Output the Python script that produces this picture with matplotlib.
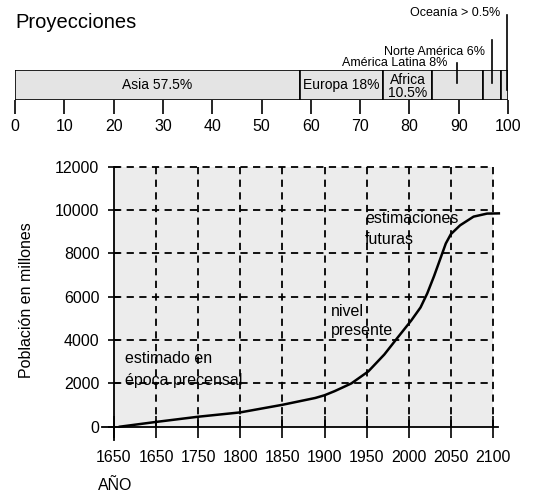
import numpy as np
import matplotlib.pyplot as plt

# --- data -------------------------------------------------------------
regions = ['Asia', 'Europa', 'Africa', 'América Latina', 'Norte América', 'Oceanía']
region_labels = ['Asia 57.5%', 'Europa 18%', 'Africa\n10.5%', '', '', '']
# widths as drawn in the bar (percent of total)
region_widths = [57.8, 16.8, 10.0, 10.3, 3.7, 1.4]
callouts = ['América Latina 8%', 'Norte América 6%', 'Oceanía > 0.5%']

years = [1657, 1700, 1750, 1800, 1850, 1889, 1900, 1912, 1921, 1932, 1952,
         1971, 1987, 2003, 2014, 2022, 2030, 2038, 2044, 2050, 2061, 2077,
         2093, 2107]
population = [0, 220, 460, 660, 1010, 1325, 1450, 1640, 1800, 2000, 2550,
              3330, 4120, 4900, 5500, 6150, 6940, 7800, 8450, 8880, 9290,
              9690, 9830, 9840]

tick_years = [1650, 1700, 1750, 1800, 1850, 1900, 1950, 2000, 2050, 2100]
tick_year_labels = ['1650', '1650', '1750', '1800', '1850', '1900',
                    '1950', '2000', '2050', '2100']
pop_ticks = [0, 2000, 4000, 6000, 8000, 10000, 12000]

plt.rcParams['font.family'] = ['Liberation Sans', 'DejaVu Sans']
W, H = 536, 495

fig = plt.figure(figsize=(W / 100, H / 100), dpi=100)

fig.text(15 / W, 1 - 28 / H, 'Proyecciones', fontsize=14.5, va='baseline', ha='left')

# --- top stacked bar ----------------------------------------------------
bx = fig.add_axes([15 / W, 1 - 100 / H, 493 / W, 30 / H])
left = 0
for name, w, lab in zip(regions, region_widths, region_labels):
    bx.barh(0.5, w, left=left, height=1.0, color='#e4e4e4',
            edgecolor='black', linewidth=1.2)
    if lab:
        bx.text(left + w / 2, 0.5 if '\n' not in lab else 0.45, lab,
                ha='center', va='center', fontsize=10, linespacing=0.85)
    left += w
bx.set_xlim(0, 100)
bx.set_ylim(0, 1)
bx.set_yticks([])
for s in ['top', 'right', 'left', 'bottom']:
    bx.spines[s].set_visible(False)
bx.set_xticks(np.arange(0, 101, 10))
bx.tick_params(axis='x', direction='out', length=10, width=1.2, pad=4,
               labelsize=11.5)

# callout lines and labels
line_x = [89.6, 96.8, 99.8]
line_top = [1.23, 2.0, 2.83]
line_bot = [0.57, 0.57, 0.33]
lab_x = [87.8, 95.3, 98.4]
lab_y = [1.23, 1.6, 2.9]
for txt, lx, lt, lb, tx, ty in zip(callouts, line_x, line_top, line_bot, lab_x, lab_y):
    bx.plot([lx, lx], [lb, lt], color='black', lw=1.2, clip_on=False)
    bx.text(tx, ty, txt, ha='right', va='center', fontsize=9, clip_on=False)

# --- main population chart ---------------------------------------------
ax = fig.add_axes([102.2 / W, 1 - 439.7 / H, (498 - 102.2) / W, (439.7 - 163.3) / H])
ax.set_xlim(1636, 2106)
ax.set_ylim(-600, 12150)

ax.fill_between([1650, 2100], 0, 12000, color='#ececec', zorder=0, lw=0)

dash = (0, (4, 3))
ax.vlines(tick_years[1:], 0, 12100, colors='black', linestyles=dash, lw=1.3, zorder=1)
ax.hlines(pop_ticks[1:], 1650, 2100, colors='black', linestyles=dash, lw=1.3, zorder=1)

ax.plot(years, population, color='black', lw=1.8, zorder=3, clip_on=False)

for s in ['top', 'right']:
    ax.spines[s].set_visible(False)
ax.spines['left'].set_position(('data', 1650))
ax.spines['bottom'].set_position(('data', 0))
ax.spines['left'].set_bounds(-600, 12000)
ax.spines['left'].set_linewidth(1.3)
ax.spines['bottom'].set_linewidth(1.3)

ax.set_yticks(pop_ticks)
ax.tick_params(axis='y', direction='inout', length=8, width=1.2, pad=6.5,
               labelsize=11.5)
ax.set_xticks(tick_years)
ax.set_xticklabels(tick_year_labels)
ax.tick_params(axis='x', direction='inout', length=16, width=1.2, pad=9,
               labelsize=11.5)

ax.text(1948, 9600, 'estimaciones', fontsize=11.5, va='center', ha='left')
ax.text(1948, 8650, 'futuras', fontsize=11.5, va='center', ha='left')
ax.text(1908, 5300, 'nivel', fontsize=11.5, va='center', ha='left')
ax.text(1908, 4430, 'presente', fontsize=11.5, va='center', ha='left')
ax.text(1663, 3150, 'estimado en', fontsize=11.5, va='center', ha='left')
ax.text(1663, 2150, 'época precensal', fontsize=11.5, va='center', ha='left')

fig.text(27 / W, 1 - 300 / H, 'Población en millones', rotation=90,
         fontsize=11.5, ha='center', va='center')
fig.text(98 / W, 1 - 485 / H, 'AÑO', fontsize=11.5, ha='left', va='center')

fig.savefig('out.png', dpi=100)
